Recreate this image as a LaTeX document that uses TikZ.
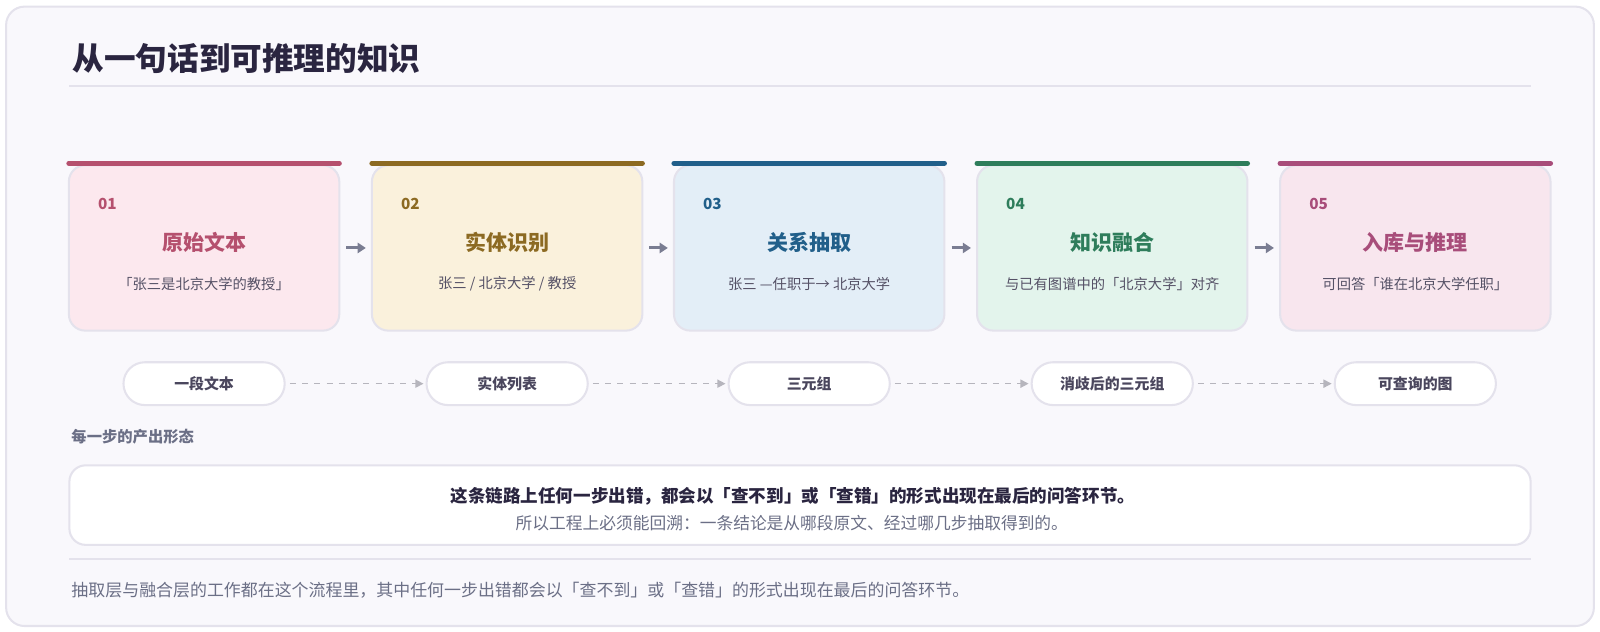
\documentclass[tikz,border=0pt]{standalone}
\usepackage{fontspec}
\setmainfont{Noto Sans CJK SC}
\usetikzlibrary{arrows.meta}
\usetikzlibrary{positioning}
\definecolor{ink}{HTML}{2A2540}
\definecolor{muted}{HTML}{6B6F86}
\definecolor{rule}{HTML}{E4E2EC}
\definecolor{cA}{HTML}{B5506E}\definecolor{fA}{HTML}{FCE8EE}
\definecolor{cB}{HTML}{8C6A22}\definecolor{fB}{HTML}{FAF1DC}
\definecolor{cC}{HTML}{215F8A}\definecolor{fC}{HTML}{E3EEF7}
\definecolor{cD}{HTML}{2E7D5B}\definecolor{fD}{HTML}{E3F4EC}
\definecolor{cE}{HTML}{A84D7A}\definecolor{fE}{HTML}{F8E6EE}
\tikzstyle{card} = [rectangle, draw=rule, line width=1pt, rounded corners=8pt,
    minimum width=132.5pt, minimum height=81pt, inner sep=0pt]
\tikzstyle{pill} = [rectangle, draw=rule, fill=white, line width=1pt,
    rounded corners=10.5pt, minimum width=79pt, minimum height=21pt,
    font=\fontsize{7.3}{9}\selectfont\bfseries, text=ink!85]
\tikzstyle{stepline} = [draw=muted!90, line width=1.5pt, -{Triangle[length=4pt,width=5pt]}]
\tikzstyle{flow} = [draw=black!20!rule, line width=0.7pt, dashed,
    -{Triangle[length=4pt,width=4pt]}]
\begin{document}
\begin{tikzpicture}[x=0.5pt, y=-0.5pt]
% Frame
\node [draw=rule, line width=1pt, fill={rgb,255:red,249;green,248;blue,252},
    rounded corners=9pt, minimum width=778pt, minimum height=303.5pt]
    (frame) at (784,310) {};
\useasboundingbox (0,0) rectangle (1568,618.4);
\node [anchor=west, font=\fontsize{15.5}{18}\selectfont\bfseries, text=ink]
    (title) at (64,57) {从一句话到可推理的知识};
\coordinate (ruleA) at (68,84); \coordinate (ruleB) at (1500,84);
\draw [rule, line width=0.8pt] (ruleA) -- (ruleB);

% Cards
\foreach \i/\x/\c/\f/\head/\sub/\out in {
    1/200/cA/fA/原始文本/「张三是北京大学的教授」/一段文本,
    2/497/cB/fB/实体识别/{张三 / 北京大学 / 教授}/实体列表,
    3/793/cC/fC/关系抽取/张三 —任职于→ 北京大学/三元组,
    4/1090/cD/fD/知识融合/与已有图谱中的「北京大学」对齐/消歧后的三元组,
    5/1387/cE/fE/入库与推理/可回答「谁在北京大学任职」/可查询的图}{
  \node [card, fill=\f] (card\i) at (\x,243) {};
  \draw [\c, line width=2.5pt, line cap=round]
      ([xshift=0.5pt,yshift=0.5pt]card\i.north west) -- ([xshift=-0.5pt,yshift=0.5pt]card\i.north east);
  \node [anchor=west, text=\c, font=\fontsize{7.5}{9}\selectfont\bfseries]
      (num\i) at (\x-111,200) {0\i};
  \node [text=\c, font=\fontsize{10.3}{12}\selectfont\bfseries] (head\i) at (\x,238) {\head};
  \node [text=ink!80, font=\fontsize{7}{9}\selectfont] (sub\i) at (\x,278) {\sub};
  \node [pill] (out\i) at (\x,376) {\out};
}

% Arrows
\foreach \a/\b in {1/2,2/3,3/4,4/5}{
  \path [stepline] ([xshift=3pt]card\a.east) -- ([xshift=-2.5pt]card\b.west);
  \path [flow] ([xshift=2pt]out\a.east) -- ([xshift=-1pt]out\b.west);
}

\node [anchor=west, text=muted, font=\fontsize{7.5}{9}\selectfont\bfseries]
    (caption) at (63,428) {每一步的产出形态};

% Note box
\node [draw=rule, line width=1pt, fill=white, rounded corners=8pt,
    minimum width=716pt, minimum height=39pt] (note) at (784,495) {};
\node [text=ink, font=\fontsize{8.6}{10}\selectfont\bfseries] (noteA) at (777,486)
    {这条链路上任何一步出错，都会以「查不到」或「查错」的形式出现在最后的问答环节。};
\node [text=muted, font=\fontsize{8.2}{10}\selectfont] (noteB) at (776,513)
    {所以工程上必须能回溯：一条结论是从哪段原文、经过哪几步抽取得到的。};

\coordinate (ruleC) at (68,548); \coordinate (ruleD) at (1500,548);
\draw [rule, line width=0.8pt] (ruleC) -- (ruleD);
\node [anchor=west, text=muted, font=\fontsize{8.3}{10}\selectfont] (foot) at (63,578)
    {抽取层与融合层的工作都在这个流程里，其中任何一步出错都会以「查不到」或「查错」的形式出现在最后的问答环节。};
\end{tikzpicture}
\end{document}
